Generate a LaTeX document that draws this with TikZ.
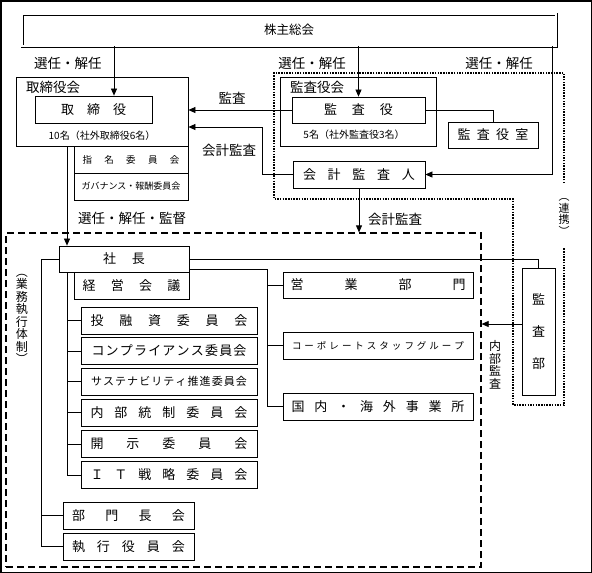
\documentclass[tikz,border=0pt]{standalone}
\usepackage{fontspec}
\setmainfont{Noto Sans CJK JP}
\usetikzlibrary{arrows.meta}

\newcommand{\spreadtxt}[2]{\makebox[#1][s]{\spreadfirst#2\relax}}
\def\spreadfirst#1{#1\spreadrest}
\def\spreadrest#1{\ifx#1\relax\else\hfill#1\expandafter\spreadrest\fi}

\begin{document}
\begin{tikzpicture}[x=1pt, y=-1pt,
	box/.style={draw, line width=0.8pt, inner sep=0pt, minimum height=27pt, font=\fontsize{13}{15}\selectfont},
	small/.style={font=\fontsize{9.5}{11}\selectfont},
	lbl/.style={inner sep=0pt, font=\fontsize{13.5}{15}\selectfont},
	note/.style={inner sep=0pt, font=\fontsize{10}{12}\selectfont},
	vlbl/.style={inner sep=0pt, align=center, font=\fontsize{12}{12.5}\selectfont},
	line/.style={line width=0.7pt},
	dotline/.style={dash pattern=on 1.5pt off 1.2pt, line width=1.5pt},
	dashline/.style={dash pattern=on 7pt off 4pt, line width=1.2pt},
	>={Triangle[length=7pt,width=6pt]}]

\useasboundingbox (0,0) rectangle (592,573);
\draw[line width=1.5pt] (0.75,0.75) rectangle (591.25,572.25);

% Nodes
\node[box, double, double distance=1.4pt, minimum width=534pt, minimum height=32pt, font=\fontsize{12.5}{14}\selectfont] (soukai) at (289,30) {株主総会};

\node[box, minimum width=172pt, minimum height=69pt] (torikai) at (102,111.5) {};
\node[lbl, anchor=west] (torikailbl) at (26,87) {取締役会};
\node[box, minimum width=117pt] (tori) at (93.5,109.5) {\spreadtxt{65pt}{取締役}};
\node[note] (torinum) at (102,136) {10名（社外取締役6名）};
\node[box, small, minimum width=114pt] (shimei) at (131,159.5) {\spreadtxt{97pt}{指名委員会}};
\node[box, small, font=\fontsize{9}{11}\selectfont, minimum width=114pt] (gov) at (131,186.5) {ガバナンス・報酬委員会};

\node[box, minimum width=156pt, minimum height=69pt] (kansakai) at (358,111.5) {};
\node[lbl, anchor=west] (kansakailbl) at (290,87) {監査役会};
\node[box, minimum width=133pt, minimum height=26pt] (kansayaku) at (358.5,110) {\spreadtxt{69pt}{監査役}};
\node[note] (kansanum) at (354,135) {5名（社外監査役3名）};
\node[box, minimum width=90pt, minimum height=26pt] (kansashitsu) at (493,135) {\spreadtxt{71pt}{監査役室}};
\node[box, minimum width=132pt] (kaikei) at (359,174.5) {\spreadtxt{112pt}{会計監査人}};

\node[draw, dashline, inner sep=0pt, minimum width=475pt, minimum height=334pt] (gyomu) at (243.5,400) {};

\node[box, minimum width=130pt, minimum height=26pt] (shacho) at (124,259) {\spreadtxt{42pt}{社長}};
\node[box, minimum width=115pt] (keiei) at (131.5,285.5) {\spreadtxt{98pt}{経営会議}};

\node[box, minimum width=176pt] (toyushi) at (169,320.5) {\spreadtxt{157pt}{投融資委員会}};
\node[box, minimum width=176pt] (compl) at (169,351) {\spreadtxt{155pt}{コンプライアンス委員会}};
\node[box, minimum width=176pt, font=\fontsize{11}{13}\selectfont] (sustain) at (169,381.5) {\spreadtxt{156pt}{サステナビリティ推進委員会}};
\node[box, minimum width=176pt] (naibu) at (169,412.5) {\spreadtxt{157pt}{内部統制委員会}};
\node[box, minimum width=176pt] (kaiji) at (169,444) {\spreadtxt{157pt}{開示委員会}};
\node[box, minimum width=176pt] (itsen) at (169,475) {\spreadtxt{157pt}{ＩＴ戦略委員会}};

\node[box, minimum width=131pt] (bumoncho) at (128.5,515.5) {\spreadtxt{113pt}{部門長会}};
\node[box, minimum width=131pt] (shikko) at (128.5,546.5) {\spreadtxt{113pt}{執行役員会}};

\node[box, minimum width=190pt, minimum height=26pt] (eigyo) at (378,285) {\spreadtxt{175pt}{営業部門}};
\node[box, small, minimum width=190pt] (corp) at (378,345.5) {\spreadtxt{172pt}{コーポレートスタッフグループ}};
\node[box, minimum width=190pt] (kokunai) at (378,406.5) {\spreadtxt{173pt}{国内・海外事業所}};

\node[box, minimum width=33pt, minimum height=127pt, align=center, font=\fontsize{13}{32}\selectfont] (kansabu) at (538.5,331.5) {監\\査\\部};

% Labels
\node[lbl] (sennin1) at (68,63) {選任・解任};
\node[lbl] (sennin2) at (312,63) {選任・解任};
\node[lbl] (sennin3) at (499,63) {選任・解任};
\node[lbl] (kansalbl) at (232,98) {監査};
\node[lbl] (kaikeilbl1) at (229,150) {会計監査};
\node[lbl] (kantoku) at (132,218) {選任・解任・監督};
\node[lbl] (kaikeilbl2) at (395,219) {会計監査};
\node[vlbl] (taisei) at (22,319) {︵\\業\\務\\執\\行\\体\\制\\︶};
\node[vlbl, font=\fontsize{11}{11.5}\selectfont] (renkei) at (564,217) {︵\\連\\携\\︶};
\node[vlbl] (naibulbl) at (495,365) {内\\部\\監\\査};

% Audit area
\draw[dotline] (564,183) -- (564,73) -- (274,73) -- (274,199) -- (513,199) -- (513,405) -- (564,405) -- (564,248);

% Transitions
\coordinate (a1) at (114,0);
\coordinate (a2) at (67,0);
\draw[line, ->] (soukai.south -| a1) -- (tori.north -| a1);
\draw[line, ->] (soukai.south -| kansayaku.north) -- (kansayaku.north);
\draw[line, ->] ([xshift=-4pt]soukai.south east) |- (kaikei.east);
\draw[line, ->] (kansayaku.west) -- (kansayaku.west -| torikai.east);
\draw[line, ->] (kaikei.west) -- ++(-30,0) |- ([yshift=-15.5pt]torikai.east);
\draw[line] (kansayaku.east) -| (kansashitsu.north);
\draw[line, ->] (kaikei.south) -- (kaikei.south |- gyomu.north);
\draw[line, ->] (torikai.south -| a2) -- (shacho.north -| a2);

\draw[line] (shacho.west) -- ++(-17,0) |- (shikko.west);
\draw[line] (bumoncho.west) -- ++(-21,0);
\draw[line] (shacho.south -| a2) |- (itsen.west);
\foreach \c in {toyushi, compl, sustain, naibu, kaiji}
	\draw[line] (\c.west) -- ++(-14,0);

\draw[line] (shacho.east) -| (kansabu.north);
\draw[line] ([yshift=-10pt]shacho.east) -| ([xshift=-15pt]kokunai.west) -- (kokunai.west);
\foreach \c in {eigyo, corp}
	\draw[line] (\c.west) -- ++(-15,0);
\draw[line, ->] ([yshift=7.5pt]kansabu.west) -- ([yshift=7.5pt]kansabu.west -| gyomu.east);
\end{tikzpicture}
\end{document}
